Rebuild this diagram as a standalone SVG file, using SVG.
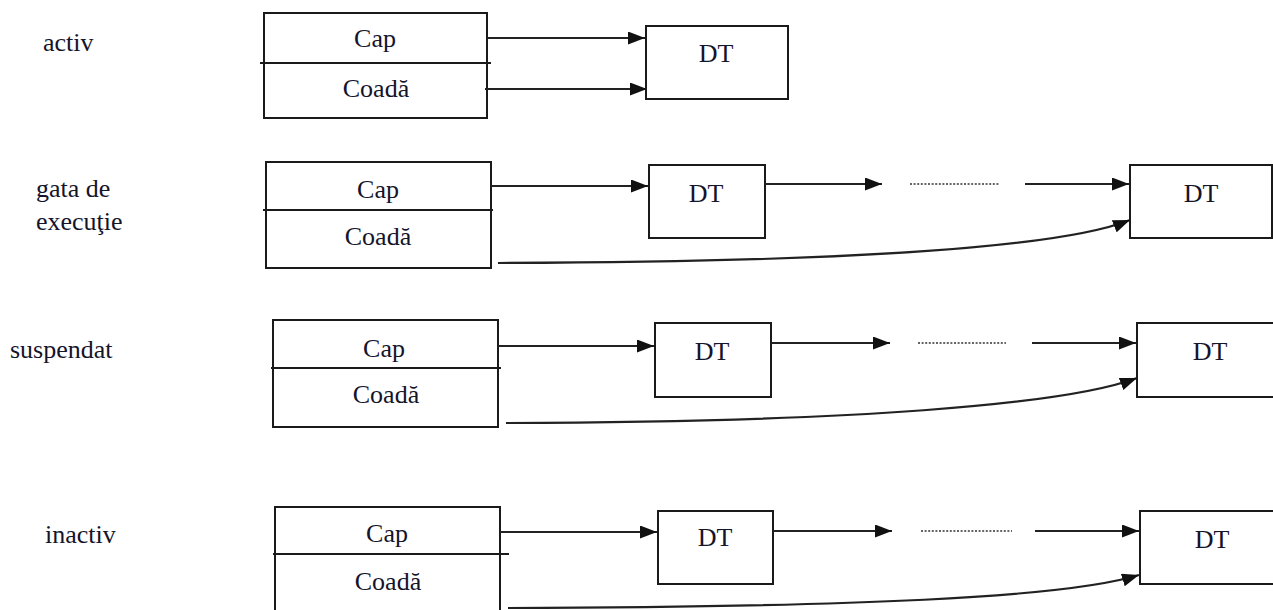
<svg xmlns="http://www.w3.org/2000/svg" width="1273" height="610" viewBox="0 0 1273 610">
  <style>
    .box { fill: #ffffff; stroke: #1a1a1a; stroke-width: 2; }
    .sep { stroke: #1a1a1a; stroke-width: 2; }
    .txt { font-family: "Liberation Serif", "Times New Roman", serif; font-size: 26px; fill: #14142a; }
    .mid { text-anchor: middle; }
    .link { fill: none; stroke: #222222; stroke-width: 2.2; marker-end: url(#head); }
    .dots { fill: none; stroke: #333333; stroke-width: 1.5; stroke-dasharray: 2 1.6; }
  </style>
  <defs>
    <marker id="head" viewBox="0 0 17 13" refX="17" refY="6.5" markerWidth="17" markerHeight="13" markerUnits="userSpaceOnUse" orient="auto">
      <path d="M0,0 L17,6.5 L0,13 z" fill="#111111"/>
    </marker>
  </defs>

  <!-- state labels -->
  <g id="labels">
    <text class="txt" x="43" y="51">activ</text>
    <text class="txt" x="36" y="197">gata de</text>
    <text class="txt" x="36" y="230">execuţie</text>
    <text class="txt" x="10" y="358">suspendat</text>
    <text class="txt" x="45" y="543">inactiv</text>
  </g>

  <!-- activ -->
  <g id="queue-activ">
    <rect class="box" x="264" y="13" width="223" height="105"/>
    <line class="sep" x1="260" y1="63" x2="491" y2="63"/>
    <text class="txt mid" x="375" y="47">Cap</text>
    <text class="txt mid" x="376" y="97">Coadă</text>
  </g>
  <g id="dt-activ">
    <rect class="box" x="646" y="26" width="142" height="73"/>
    <text class="txt mid" x="716" y="62">DT</text>
  </g>

  <!-- gata de executie -->
  <g id="queue-gata">
    <rect class="box" x="266" y="162" width="225" height="106"/>
    <line class="sep" x1="263" y1="210" x2="493" y2="210"/>
    <text class="txt mid" x="378" y="198">Cap</text>
    <text class="txt mid" x="378" y="245">Coadă</text>
  </g>
  <g id="dt-gata-1">
    <rect class="box" x="649" y="165" width="116" height="73"/>
    <text class="txt mid" x="706" y="202">DT</text>
  </g>
  <g id="dt-gata-n">
    <rect class="box" x="1130" y="165" width="142" height="73"/>
    <text class="txt mid" x="1201" y="202">DT</text>
  </g>

  <!-- suspendat -->
  <g id="queue-suspendat">
    <rect class="box" x="273" y="320" width="225" height="107"/>
    <line class="sep" x1="271" y1="368" x2="501" y2="368"/>
    <text class="txt mid" x="384" y="357">Cap</text>
    <text class="txt mid" x="386" y="403">Coadă</text>
  </g>
  <g id="dt-suspendat-1">
    <rect class="box" x="655" y="323" width="116" height="74"/>
    <text class="txt mid" x="712" y="360">DT</text>
  </g>
  <g id="dt-suspendat-n">
    <rect class="box" x="1137" y="323" width="142" height="74"/>
    <text class="txt mid" x="1210" y="360">DT</text>
  </g>

  <!-- inactiv -->
  <g id="queue-inactiv">
    <rect class="box" x="275" y="507" width="225" height="110"/>
    <line class="sep" x1="273" y1="554" x2="509" y2="554"/>
    <text class="txt mid" x="387" y="542">Cap</text>
    <text class="txt mid" x="388" y="590">Coadă</text>
  </g>
  <g id="dt-inactiv-1">
    <rect class="box" x="658" y="511" width="115" height="73"/>
    <text class="txt mid" x="715" y="546">DT</text>
  </g>
  <g id="dt-inactiv-n">
    <rect class="box" x="1140" y="511" width="142" height="73"/>
    <text class="txt mid" x="1212" y="548">DT</text>
  </g>

  <!-- connectors -->
  <g id="connectors">
    <!-- activ -->
    <line class="link" x1="487" y1="38" x2="645" y2="38"/>
    <line class="link" x1="485" y1="89" x2="647" y2="89"/>

    <!-- gata de executie -->
    <line class="link" x1="491" y1="186" x2="648" y2="186"/>
    <line class="link" x1="765" y1="184" x2="882" y2="184"/>
    <line class="dots" x1="910" y1="184" x2="1000" y2="184"/>
    <line class="link" x1="1025" y1="184" x2="1129" y2="184"/>
    <path class="link" d="M498,263 C850,262 1060,248 1130,220"/>

    <!-- suspendat -->
    <line class="link" x1="498" y1="346" x2="654" y2="346"/>
    <line class="link" x1="771" y1="343" x2="890" y2="343"/>
    <line class="dots" x1="918" y1="343" x2="1006" y2="343"/>
    <line class="link" x1="1032" y1="343" x2="1136" y2="343"/>
    <path class="link" d="M506,423 C850,422 1065,405 1137,378"/>

    <!-- inactiv -->
    <line class="link" x1="500" y1="532" x2="657" y2="532"/>
    <line class="link" x1="773" y1="531" x2="892" y2="531"/>
    <line class="dots" x1="921" y1="531" x2="1012" y2="531"/>
    <line class="link" x1="1035" y1="531" x2="1139" y2="531"/>
    <path class="link" d="M508,608 C850,607 1065,598 1139,575"/>
  </g>
</svg>
